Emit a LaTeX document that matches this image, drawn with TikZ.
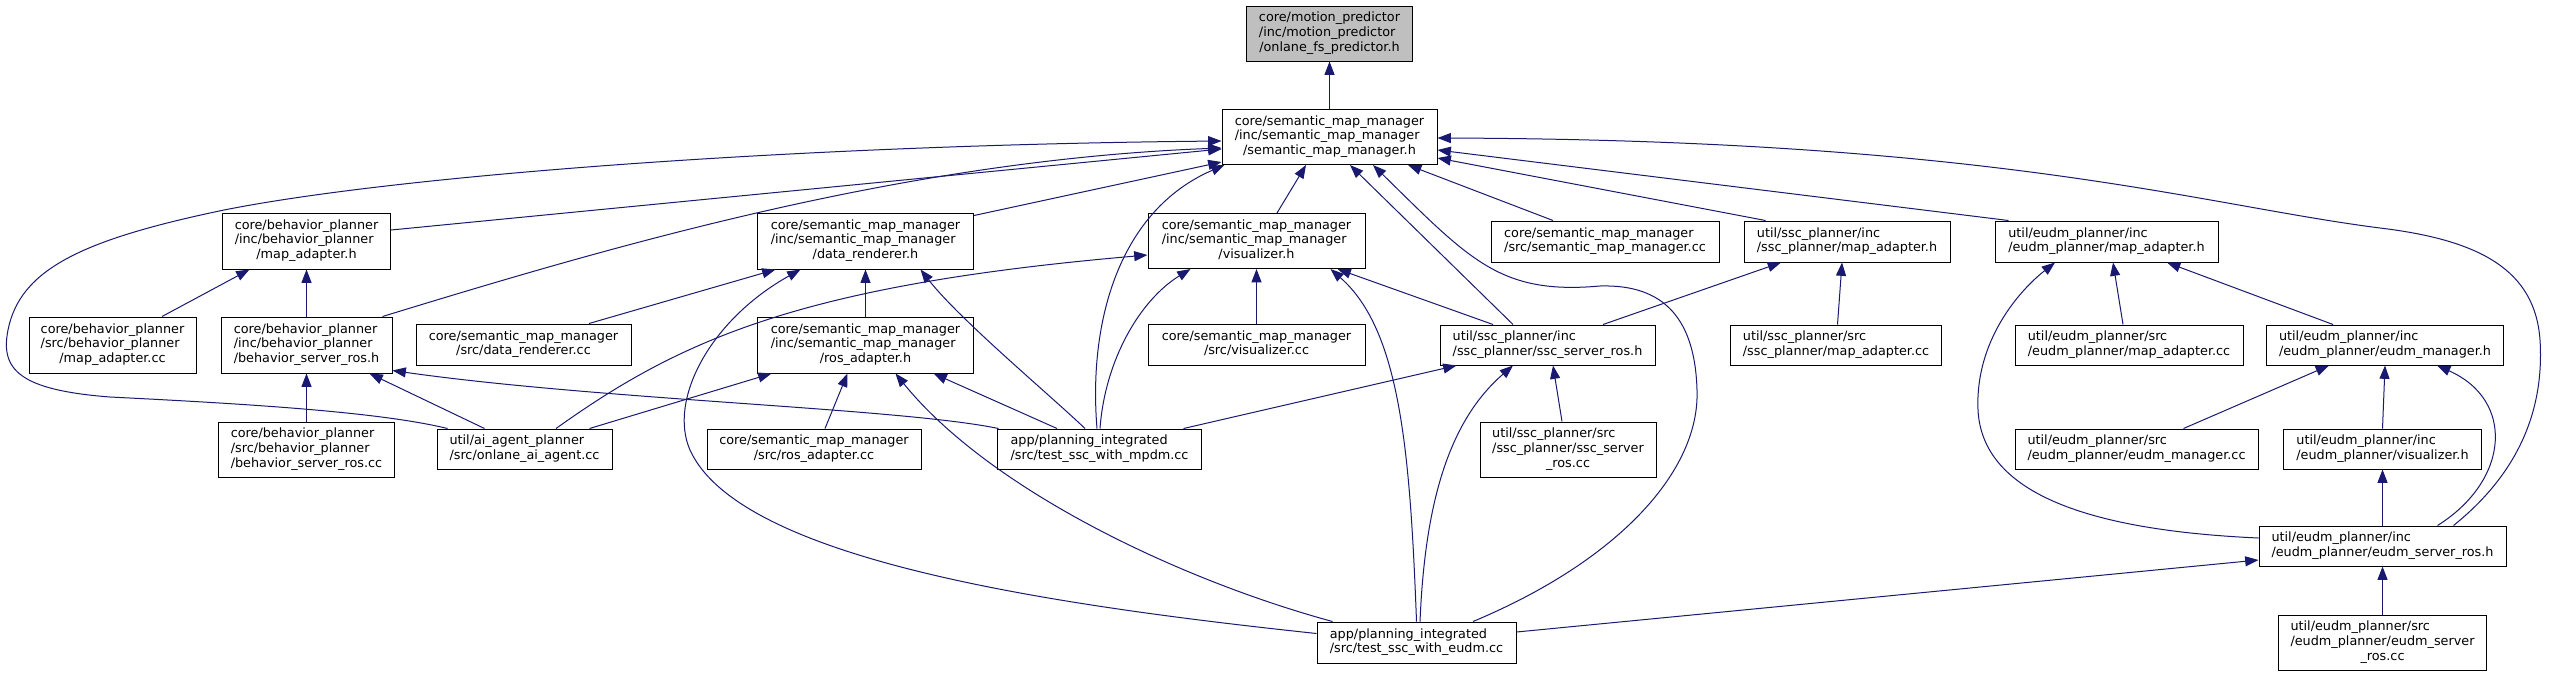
\documentclass[tikz,border=0pt]{standalone}
\usepackage{fontspec}
\setmainfont{DejaVu Sans}
\usetikzlibrary{arrows.meta,calc}
\definecolor{edgecol}{HTML}{191970}
\definecolor{topfill}{HTML}{BFBFBF}
\newcommand{\doxlab}[2]{\begin{tabular}{@{}l@{}}#1\\\multicolumn{1}{@{}c@{}}{#2}\end{tabular}}
\begin{document}
\begin{tikzpicture}[x=0.75pt,y=-0.75pt,
  box/.style={draw=black,line width=0.75pt,fill=white,inner sep=0pt,
    font=\fontsize{9.6}{11}\selectfont},
  nd/.style 2 args={minimum width=#1*0.75pt,minimum height=#2*0.75pt},
  dep/.style={draw=edgecol,line width=0.75pt,-{Triangle[length=10pt,width=7.5pt]}}]
\fill[white] (0,0) rectangle (2551,676);
\useasboundingbox (0,0) rectangle (2551,676);
% nodes
\node[box,fill=topfill,nd={166}{55}] (top) at (1329.5,33.5) {\doxlab{core/motion\_predictor\\/inc/motion\_predictor}{/onlane\_fs\_predictor.h}};
\node[box,nd={215}{55}] (smm) at (1329.5,137) {\doxlab{core/semantic\_map\_manager\\/inc/semantic\_map\_manager}{/semantic\_map\_manager.h}};
\node[box,nd={168}{56}] (bma) at (306.5,241) {\doxlab{core/behavior\_planner\\/inc/behavior\_planner}{/map\_adapter.h}};
\node[box,nd={216}{56}] (dr) at (865.5,241) {\doxlab{core/semantic\_map\_manager\\/inc/semantic\_map\_manager}{/data\_renderer.h}};
\node[box,nd={217}{55}] (vis) at (1256.5,241) {\doxlab{core/semantic\_map\_manager\\/inc/semantic\_map\_manager}{/visualizer.h}};
\node[box,nd={228}{41}] (smmcc) at (1605,241.5) {\doxlab{core/semantic\_map\_manager}{/src/semantic\_map\_manager.cc}};
\node[box,nd={206}{41}] (sscma) at (1847,241.5) {\doxlab{util/ssc\_planner/inc}{/ssc\_planner/map\_adapter.h}};
\node[box,nd={223}{41}] (eudmma) at (2106.5,241.5) {\doxlab{util/eudm\_planner/inc}{/eudm\_planner/map\_adapter.h}};
\node[box,nd={167}{56}] (bmacc) at (112.5,345) {\doxlab{core/behavior\_planner\\/src/behavior\_planner}{/map\_adapter.cc}};
\node[box,nd={171}{56}] (bsr) at (306.5,345) {\doxlab{core/behavior\_planner\\/inc/behavior\_planner}{/behavior\_server\_ros.h}};
\node[box,nd={215}{41}] (drcc) at (523.5,344.5) {\doxlab{core/semantic\_map\_manager}{/src/data\_renderer.cc}};
\node[box,nd={216}{56}] (ra) at (865.5,345) {\doxlab{core/semantic\_map\_manager\\/inc/semantic\_map\_manager}{/ros\_adapter.h}};
\node[box,nd={217}{41}] (viscc) at (1256.5,344.5) {\doxlab{core/semantic\_map\_manager}{/src/visualizer.cc}};
\node[box,nd={215}{40}] (sscsr) at (1547.5,345) {\doxlab{util/ssc\_planner/inc}{/ssc\_planner/ssc\_server\_ros.h}};
\node[box,nd={211}{40}] (sscmacc) at (1836,345) {\doxlab{util/ssc\_planner/src}{/ssc\_planner/map\_adapter.cc}};
\node[box,nd={228}{40}] (eudmmacc) at (2129,345) {\doxlab{util/eudm\_planner/src}{/eudm\_planner/map\_adapter.cc}};
\node[box,nd={237}{40}] (em) at (2385,345) {\doxlab{util/eudm\_planner/inc}{/eudm\_planner/eudm\_manager.h}};
\node[box,nd={176}{55}] (bsrcc) at (306.5,449.5) {\doxlab{core/behavior\_planner\\/src/behavior\_planner}{/behavior\_server\_ros.cc}};
\node[box,nd={175}{40}] (ai) at (524.5,449) {\doxlab{util/ai\_agent\_planner}{/src/onlane\_ai\_agent.cc}};
\node[box,nd={214}{40}] (racc) at (814,449) {\doxlab{core/semantic\_map\_manager}{/src/ros\_adapter.cc}};
\node[box,nd={204}{40}] (mpdm) at (1099.5,449) {\doxlab{app/planning\_integrated}{/src/test\_ssc\_with\_mpdm.cc}};
\node[box,nd={176}{55}] (sscsrcc) at (1568,449.5) {\doxlab{util/ssc\_planner/src\\/ssc\_planner/ssc\_server}{\_ros.cc}};
\node[box,nd={243}{40}] (emcc) at (2136.5,449) {\doxlab{util/eudm\_planner/src}{/eudm\_planner/eudm\_manager.cc}};
\node[box,nd={198}{40}] (ev) at (2382.5,449) {\doxlab{util/eudm\_planner/inc}{/eudm\_planner/visualizer.h}};
\node[box,nd={247}{40}] (esr) at (2382.5,546) {\doxlab{util/eudm\_planner/inc}{/eudm\_planner/eudm\_server\_ros.h}};
\node[box,nd={199}{41}] (eudmcc) at (1416.5,642.5) {\doxlab{app/planning\_integrated}{/src/test\_ssc\_with\_eudm.cc}};
\node[box,nd={208}{55}] (esrcc) at (2382.5,642.5) {\doxlab{util/eudm\_planner/src\\/eudm\_planner/eudm\_server}{\_ros.cc}};
% edges
\draw[dep] (smm.north) -- (top.south);
\draw[dep] ($(bma.east)+(0,-11)$) -- ($(smm.west)+(0,12)$);
\draw[dep] ($(bsr.north east)+(-10,0)$) .. controls (600,250) and (900,160) .. ($(smm.west)+(0,11)$);
\draw[dep] ($(ai.north west)+(11,0)$) .. controls (380,412) and (250,404) .. (110,397) .. controls (20,390) and (0,370) .. (8,330) .. controls (20,270) and (80,240) .. (224,210) .. controls (400,175) and (800,145) .. ($(smm.west)+(0,4)$);
\draw[dep] ($(dr.north east)+(0,3)$) -- ($(smm.south west)+(0,-3)$);
\draw[dep] ($(mpdm.north)+(-2.5,0)$) .. controls (1088,320) and (1120,210) .. ($(smm.south west)+(3,0)$);
\draw[dep] ($(vis.north)+(20.5,0)$) -- ($(smm.south)+(-23.5,0)$);
\draw[dep] ($(sscsr.north)+(-34.5,0)$) -- ($(smm.south)+(20.5,0)$);
\draw[dep] ($(eudmcc.north)+(56.5,0)$) .. controls (1620,560) and (1700,470) .. (1697,390) .. controls (1695,320) and (1665,284) .. (1600,286) .. controls (1500,295) and (1470,260) .. ($(smm.south)+(43.5,0)$);
\draw[dep] ($(smmcc.north)+(-52,0)$) -- ($(smm.south)+(78.5,0)$);
\draw[dep] ($(sscma.north west)+(22,0)$) -- ($(smm.east)+(0,21)$);
\draw[dep] ($(eudmma.north west)+(14,0)$) -- ($(smm.east)+(0,13)$);
\draw[dep] ($(esr.north)+(71,0)$) .. controls (2510,480) and (2545,420) .. (2540,340) .. controls (2535,270) and (2480,240) .. (2380,228) .. controls (2200,205) and (2000,140) .. ($(smm.east)+(0,1)$);
\draw[dep] ($(bmacc.north)+(49.5,0)$) -- ($(bma.south)+(-57,0)$);
\draw[dep] (bsr.north) -- (bma.south);
\draw[dep] ($(drcc.north)+(65.5,0)$) -- ($(dr.south)+(-90,0)$);
\draw[dep] ($(eudmcc.west)+(0,-9)$) .. controls (1050,605) and (740,560) .. (690,450) .. controls (668,400) and (710,320) .. ($(dr.south)+(-65,0)$);
\draw[dep] (ra.north) -- (dr.south);
\draw[dep] ($(mpdm.north)+(-14.5,0)$) .. controls (1050,395) and (960,320) .. ($(dr.south)+(55,0)$);
\draw[dep] ($(ai.north)+(31.5,0)$) .. controls (680,340) and (800,285) .. ($(vis.west)+(0,14)$);
\draw[dep] ($(mpdm.north)+(0.5,0)$) .. controls (1105,360) and (1140,300) .. ($(vis.south)+(-66,0)$);
\draw[dep] (viscc.north) -- (vis.south);
\draw[dep] ($(sscsr.north)+(-54.5,0)$) -- ($(vis.south east)+(-28,0)$);
\draw[dep] (eudmcc.north) .. controls (1410,450) and (1400,330) .. ($(vis.south east)+(-35,0)$);
\draw[dep] (bsrcc.north) -- (bsr.south);
\draw[dep] ($(ai.north west)+(48,0)$) -- ($(bsr.south)+(63,0)$);
\draw[dep] ($(mpdm.north west)+(1.5,0)$) .. controls (900,408) and (600,400) .. ($(bsr.south east)+(0,-3)$);
\draw[dep] ($(ai.north east)+(-23,0)$) -- ($(ra.south)+(-94,0)$);
\draw[dep] ($(racc.north)+(11,0)$) -- ($(ra.south)+(-18,0)$);
\draw[dep] ($(eudmcc.north west)+(16,0)$) .. controls (1180,580) and (990,490) .. ($(ra.south)+(30,0)$);
\draw[dep] ($(mpdm.north)+(-42.5,0)$) -- ($(ra.south)+(68,0)$);
\draw[dep] ($(mpdm.north east)+(-18.5,0)$) -- ($(sscsr.south west)+(17,0)$);
\draw[dep] ($(sscsrcc.north)+(-6,0)$) -- ($(sscsr.south)+(5.5,0)$);
\draw[dep] ($(eudmcc.north)+(3.5,0)$) .. controls (1425,500) and (1450,420) .. ($(sscsr.south)+(-34.5,0)$);
\draw[dep] ($(sscsr.north)+(55.5,0)$) -- ($(sscma.south)+(-66,0)$);
\draw[dep] ($(sscmacc.north)+(1.5,0)$) -- ($(sscma.south)+(-5,0)$);
\draw[dep] ($(esr.west)+(0,-8)$) .. controls (2080,530) and (1982,490) .. (1978,410) .. controls (1975,340) and (2020,290) .. ($(eudmma.south)+(-51.5,0)$);
\draw[dep] ($(eudmmacc.north)+(-6,0)$) -- ($(eudmma.south)+(6.5,0)$);
\draw[dep] ($(em.north)+(-52,0)$) -- ($(eudmma.south)+(60.5,0)$);
\draw[dep] ($(emcc.north)+(47,0)$) -- ($(em.south)+(-56,0)$);
\draw[dep] (ev.north) -- (em.south);
\draw[dep] ($(esr.north)+(55,0)$) .. controls (2510,480) and (2515,400) .. ($(em.south)+(52,0)$);
\draw[dep] (esr.north) -- (ev.south);
\draw[dep] (esrcc.north) -- (esr.south);
\draw[dep] ($(eudmcc.east)+(0,-10.5)$) -- ($(esr.west)+(0,14)$);
\end{tikzpicture}
\end{document}
